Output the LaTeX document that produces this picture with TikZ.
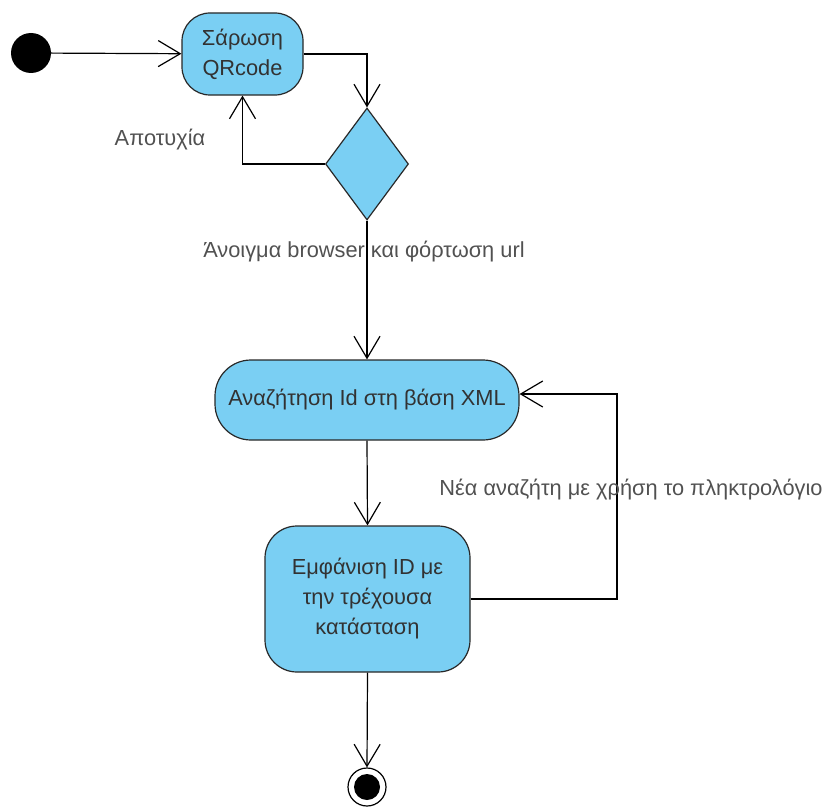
\documentclass[tikz,border=0pt]{standalone}
\usepackage{fontspec}
\setmainfont{Liberation Sans}
\usetikzlibrary{shapes.geometric,arrows.meta,calc}
\definecolor{actfill}{RGB}{122,207,243}
\definecolor{actline}{RGB}{40,40,40}
\definecolor{txt}{RGB}{50,50,50}
\begin{document}
\begin{tikzpicture}[x=1pt,y=-1pt,
  font=\fontsize{21.8}{30}\selectfont,
  activity/.style={draw=actline,fill=actfill,line width=1.2pt,rounded corners=#1,
    align=center,text=txt,inner sep=0pt},
  activity/.default=30pt,
  flow/.style={draw=black,line width=1.2pt,-{Straight Barb[length=22pt,width=26pt,line width=1.2pt]}},
  lbl/.style={text=txt!85,inner sep=0pt}]
  \useasboundingbox (0,0) rectangle (830,808);

  % initial and final states
  \node[circle,fill=black,minimum size=40pt,inner sep=0pt] (start) at (31,53) {};
  \node[circle,draw=black,line width=1.2pt,fill=white,minimum size=38pt,inner sep=0pt] (end) at (367,787) {};
  \fill[black] (end.center) circle (13pt);

  % activities
  \node[activity=28pt,minimum width=121pt,minimum height=82pt] (scan) at (242.5,54) {Σάρωση\\QRcode};
  \node[diamond,draw=actline,fill=actfill,line width=1.2pt,aspect=0.741,
        minimum width=83pt,minimum height=112pt,inner sep=0pt] (dec) at (367,164) {};
  \node[activity=36pt,minimum width=304pt,minimum height=80pt] (search) at (367,400) {Αναζήτηση  Id στη βάση XML};
  \node[activity=32pt,minimum width=205pt,minimum height=146pt] (show) at (367.5,599) {Εμφάνιση ID με\\την τρέχουσα\\κατάσταση};

  % transitions
  \draw[flow] (start) -- (scan);
  \draw[flow] (scan.east) -| (dec.north);
  \draw[flow] (dec.west) -| (scan.south);
  \draw[flow] (dec.south) -- (search.north);
  \draw[flow] (search.south) -- (show.north);
  \draw[flow] (show.east) -| (617,394) -- ([yshift=6pt]search.east);
  \draw[flow] (show.south) -- (end.north);

  % transition labels
  \node[lbl] (fail) at (160,140) {Αποτυχία};
  \node[lbl] (open) at (364,252) {Άνοιγμα browser και φόρτωση url};
  \node[lbl] (again) at (631,490) {Νέα αναζήτη με χρήση το πληκτρολόγιο};
\end{tikzpicture}
\end{document}
